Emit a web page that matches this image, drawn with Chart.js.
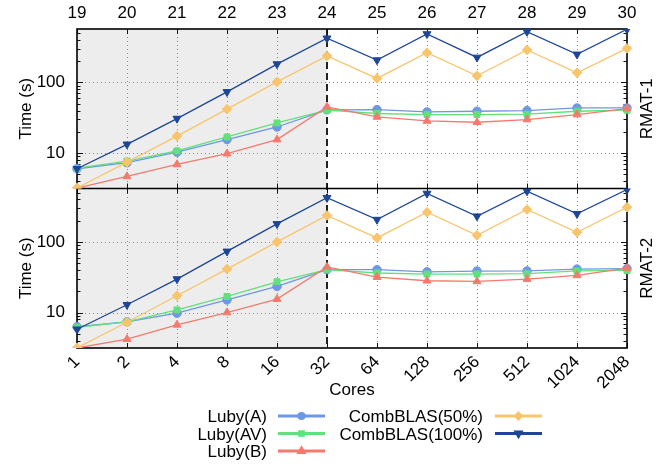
<!DOCTYPE html>
<html><head><meta charset="utf-8">
<script src="https://cdn.jsdelivr.net/npm/chart.js@4"></script>
<style>html,body{margin:0;padding:0;background:#fff}canvas{display:block}</style>
</head><body>
<canvas id="c" width="667" height="466"></canvas>
<script>
// ---- data ----
const cores = ['1','2','4','8','16','32','64','128','256','512','1024','2048'];
const scaleLabels = ['19','20','21','22','23','24','25','26','27','28','29','30'];
const yTickLabels = [10, 100];

// RMAT-1 (top panel)
const lubyA1   = [6.0, 7.3, 10.3, 15.5, 23.4, 41.0, 41.3, 38.2, 39.1, 40.0, 43.5, 43.5];
const lubyAV1  = [6.1, 7.7, 10.7, 16.9, 26.7, 40.5, 36.3, 35.1, 35.1, 35.5, 39.1, 40.5];
const lubyB1   = [3.2, 4.66, 6.9, 9.8, 15.5, 45.0, 32.5, 28.5, 27.3, 29.8, 35.1, 42.7];
const comb50_1 = [3.2, 7.45, 17.4, 41.8, 102, 237, 114, 263, 124, 288, 137, 304];
const comb100_1= [6.0, 13.3, 30.8, 73.5, 182, 422, 207, 485, 226, 523, 250, 566];

// RMAT-2 (bottom panel)
const lubyA2   = [6.3, 7.4, 9.8, 15.1, 23.4, 40.5, 40.5, 37.8, 38.7, 38.9, 41.3, 42.0];
const lubyAV2  = [6.2, 7.4, 10.9, 16.9, 27.3, 40.5, 36.3, 35.1, 35.1, 35.5, 38.9, 39.5];
const lubyB2   = [3.15, 4.2, 6.7, 10.0, 15.5, 44.2, 31.8, 28.2, 27.6, 29.8, 33.6, 42.7];
const comb50_2 = [3.16, 7.3, 17.3, 41.3, 100, 237, 114, 263, 124, 288, 137, 310];
const comb100_2= [5.8, 12.9, 29.8, 73.5, 180, 422, 207, 485, 231, 523, 250, 553];

const seriesNames = ['Luby(A)','Luby(AV)','Luby(B)','CombBLAS(50%)','CombBLAS(100%)'];
// ---- styles ----
const FONT = '"Liberation Sans", Arial, Helvetica, sans-serif';
const FS = 17;
const styles = [
  {color:'#6e97e6', style:'circle',   rot:0,   r:4.2},
  {color:'#62e07c', style:'rect',     rot:0,   r:4.2},
  {color:'#f57a6d', style:'triangle', rot:0,   r:4.6},
  {color:'#f8c56c', style:'rectRot',  rot:0,   r:4.8},
  {color:'#1d4697', style:'triangle', rot:180, r:4.6}
];
const top1 = [lubyA1, lubyAV1, lubyB1, comb50_1, comb100_1];
const bot2 = [lubyA2, lubyAV2, lubyB2, comb50_2, comb100_2];
const Y_MIN = 3.15, Y_MAX = 571;

const datasets = [];
seriesNames.forEach((name, i) => {
  const st = styles[i];
  [['yTop', top1[i]], ['yBot', bot2[i]]].forEach(([axis, data]) => {
    datasets.push({
      label: name, data, xAxisID: 'x', yAxisID: axis,
      borderColor: st.color, backgroundColor: st.color,
      pointBackgroundColor: st.color, pointBorderColor: st.color,
      borderWidth: 1.3, pointStyle: st.style, pointRotation: st.rot,
      pointRadius: st.r, pointBorderWidth: 1, tension: 0,
      order: 5 - i
    });
  });
});

const tickFont = {family: FONT, size: FS};
function yAxis() {
  return {
    type: 'logarithmic', position: 'left', stack: 'panels', stackWeight: 1,
    min: Y_MIN, max: Y_MAX,
    grid: {display: false, drawTicks: false}, border: {display: false},
    ticks: {
      autoSkip: false, padding: 12, color: '#000', font: tickFont,
      callback: v => yTickLabels.some(t => Math.abs(t - v) < 1e-6) ? String(Math.round(v)) : ''
    },
    afterFit: s => { s.width = 77; }
  };
}

const deco = {
  id: 'deco',
  beforeDatasetsDraw(chart) {
    const ctx = chart.ctx, x = chart.scales.x;
    const pTop = chart.scales.yTop.top < chart.scales.yBot.top ? chart.scales.yTop : chart.scales.yBot;
    const pBot = pTop === chart.scales.yTop ? chart.scales.yBot : chart.scales.yTop;
    const L = chart.chartArea.left, R = chart.chartArea.right, T = pTop.top, B = pBot.bottom, M = pTop.bottom;
    ctx.save();
    // shaded region
    const x32 = x.getPixelForValue(cores.indexOf('32'));
    ctx.fillStyle = '#ededed';
    ctx.fillRect(L, T, x32 - L, B - T);
    // dotted grid
    ctx.strokeStyle = '#8a8a8a'; ctx.lineWidth = 1; ctx.setLineDash([1, 3]);
    cores.forEach((c, i) => {
      if (i === 0 || i === cores.length - 1 || c === '32') return;
      const px = Math.round(x.getPixelForValue(i)) + 0.5;
      ctx.beginPath(); ctx.moveTo(px, T); ctx.lineTo(px, B); ctx.stroke();
    });
    [pTop, pBot].forEach(ys => {
      yTickLabels.forEach(v => {
        const py = Math.round(ys.getPixelForValue(v)) + 0.5;
        ctx.beginPath(); ctx.moveTo(L, py); ctx.lineTo(R, py); ctx.stroke();
      });
    });
    // dashed separator at 32 cores
    ctx.setLineDash([7, 4]); ctx.strokeStyle = '#222'; ctx.lineWidth = 2;
    ctx.beginPath(); ctx.moveTo(x32, T); ctx.lineTo(x32, B); ctx.stroke();
    ctx.setLineDash([]);
    // ticks
    ctx.strokeStyle = '#111'; ctx.lineWidth = 1;
    cores.forEach((c, i) => {
      const px = Math.round(x.getPixelForValue(i)) + 0.5;
      [[T, 5], [M, -5], [M, 5], [B, -5]].forEach(([y0, d]) => {
        ctx.beginPath(); ctx.moveTo(px, y0); ctx.lineTo(px, y0 + d); ctx.stroke();
      });
    });
    [pTop, pBot].forEach(ys => {
      for (let e = 0; e <= 2; e++) {
        for (let m = 1; m <= 9; m++) {
          const v = m * Math.pow(10, e);
          if (v < Y_MIN || v > Y_MAX) continue;
          const py = Math.round(ys.getPixelForValue(v)) + 0.5;
          const len = m === 1 ? 6 : 3.5;
          ctx.beginPath(); ctx.moveTo(L, py); ctx.lineTo(L + len, py); ctx.stroke();
          ctx.beginPath(); ctx.moveTo(R, py); ctx.lineTo(R - len, py); ctx.stroke();
        }
      }
    });
    // frame
    ctx.strokeStyle = '#000'; ctx.lineWidth = 1.6;
    ctx.strokeRect(L, T, R - L, B - T);
    ctx.beginPath(); ctx.moveTo(L, M); ctx.lineTo(R, M); ctx.stroke();
    ctx.restore();
  },
  afterDraw(chart) {
    const ctx = chart.ctx, yT = chart.scales.yTop, yB = chart.scales.yBot;
    const L = chart.chartArea.left, R = chart.chartArea.right;
    ctx.save();
    ctx.fillStyle = '#000';
    ctx.font = FS + 'px ' + FONT;
    ctx.textAlign = 'center'; ctx.textBaseline = 'middle';
    [[yT, 'RMAT-1'], [yB, 'RMAT-2']].forEach(([ys, lab]) => {
      const cy = (ys.top + ys.bottom) / 2;
      ctx.save(); ctx.translate(26, cy); ctx.rotate(-Math.PI / 2); ctx.fillText('Time (s)', 0, 0); ctx.restore();
      ctx.save(); ctx.translate(647, cy); ctx.rotate(-Math.PI / 2); ctx.fillText(lab, 0, 0); ctx.restore();
    });
    ctx.fillText('Cores', (L + R) / 2, 390);
    // legend
    const cols = [{tx: 267, x0: 278, x1: 325}, {tx: 483, x0: 495, x1: 542}];
    const rows = [416, 433.5, 451];
    seriesNames.forEach((name, i) => {
      const col = cols[i < 3 ? 0 : 1], y = rows[i < 3 ? i : i - 3], st = styles[i];
      ctx.textAlign = 'right'; ctx.fillStyle = '#000';
      ctx.fillText(name, col.tx, y + 1.5);
      ctx.strokeStyle = st.color; ctx.lineWidth = 3;
      ctx.beginPath(); ctx.moveTo(col.x0, y); ctx.lineTo(col.x1, y); ctx.stroke();
      ctx.fillStyle = st.color;
      Chart.helpers.drawPoint(ctx, {pointStyle: st.style, rotation: st.rot, radius: st.r * 0.62, borderWidth: 1}, (col.x0 + col.x1) / 2, y);
    });
    ctx.restore();
  }
};

new Chart(document.getElementById('c'), {
  type: 'line',
  data: {labels: cores, datasets},
  options: {
    responsive: false, animation: false, devicePixelRatio: 1,
    layout: {padding: {left: 0, right: 40, top: 0, bottom: 0}},
    plugins: {legend: {display: false}, tooltip: {enabled: false}},
    scales: {
      xTop: {
        type: 'category', labels: scaleLabels, position: 'top',
        grid: {display: false, drawTicks: false}, border: {display: false},
        ticks: {autoSkip: false, maxRotation: 0, padding: 5, color: '#000', font: tickFont},
        afterFit: s => { s.height = 29; }
      },
      yBot: yAxis(),
      yTop: yAxis(),
      x: {
        type: 'category', position: 'bottom',
        grid: {display: false, drawTicks: false}, border: {display: false},
        ticks: {autoSkip: false, minRotation: 45, maxRotation: 45, padding: 4, color: '#000', font: tickFont},
        afterFit: s => { s.height = 118; }
      }
    }
  },
  plugins: [deco]
});
</script>
</body></html>
